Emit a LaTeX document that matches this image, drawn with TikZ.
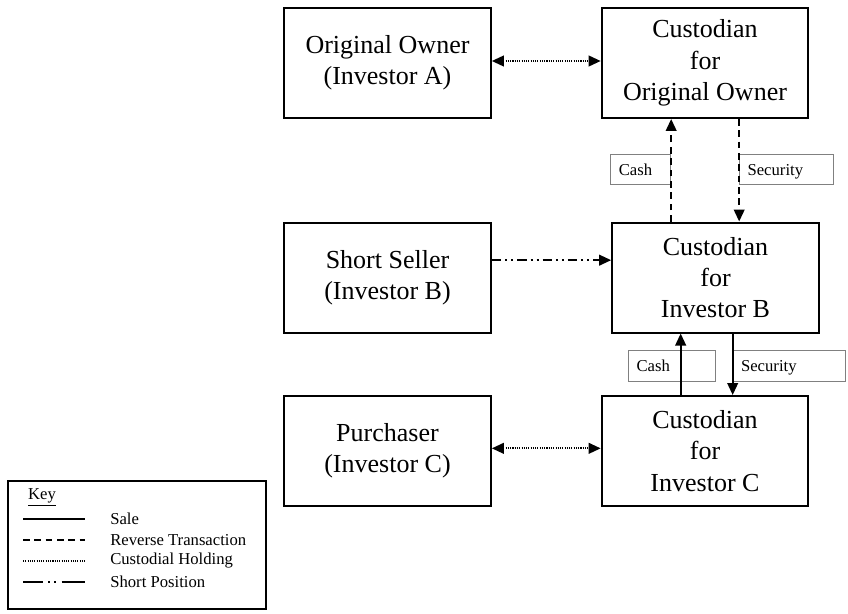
\documentclass[tikz,border=0pt]{standalone}
\usepackage{fontspec}
\setmainfont{Liberation Serif}
\usetikzlibrary{arrows.meta}

\tikzset{
  party/.style={draw,line width=1.5pt,minimum width=155pt,minimum height=82.5pt,
    inner sep=0pt,align=center,font=\fontsize{19.5}{23.5}\selectfont},
  flowtag/.style={draw=gray,line width=0.6pt,inner xsep=6pt,inner ysep=0pt,
    minimum height=23pt,text height=10.5pt,text depth=1.5pt,align=left,
    font=\fontsize{12.5}{14}\selectfont},
  keytext/.style={font=\fontsize{12.5}{14}\selectfont,inner sep=0pt},
  tip/.style={-{Triangle[length=9pt,width=8pt]}},
  twotips/.style={{Triangle[length=9pt,width=8pt]}-{Triangle[length=9pt,width=8pt]}},
  sale/.style={line width=1.4pt},
  reverse/.style={line width=1.5pt,dash pattern=on 5pt off 3.5pt},
  holding/.style={line width=1.4pt,dash pattern=on 0.8pt off 0.9pt},
  shortpos/.style={line width=1.4pt,dash pattern=on 7pt off 3pt on 1.5pt off 3pt on 1.5pt off 3pt}
}

\begin{document}
\begin{tikzpicture}[x=0.75pt,y=-0.75pt]
        \useasboundingbox (0,0) rectangle (848,613);

        \node[party] (OwnerA) at (387.5,63) {Original Owner\\(Investor A)};
        \node[party] (CustA) at (705,63) {Custodian\\for\\Original Owner};
        \node[party] (SellerB) at (387.5,277.5) {Short Seller\\(Investor B)};
        \node[party] (CustB) at (715.5,277.5) {Custodian\\for\\Investor B};
        \node[party] (BuyerC) at (387.5,451) {Purchaser\\(Investor C)};
        \node[party] (CustC) at (705,451) {Custodian\\for\\Investor C};

        % where the vertical flows run
        \coordinate (cashA) at ([xshift=45pt]CustB.north west);
        \coordinate (secA) at ([xshift=96pt]CustB.north west);
        \coordinate (cashC) at ([xshift=60pt]CustC.north west);
        \coordinate (secC) at ([xshift=99pt]CustC.north west);

        \node[flowtag,anchor=east,text width=33pt] (CashTagA) at ([yshift=39pt]cashA) {Cash};
        \node[flowtag,anchor=west,text width=58pt] (SecTagA) at ([yshift=39pt]secA) {Security};
        \node[flowtag,anchor=east,text width=53pt] (CashTagC) at ([xshift=26.25pt,yshift=22pt]cashC) {Cash};
        \node[flowtag,anchor=west,text width=72pt] (SecTagC) at ([yshift=22pt]secC) {Security};

        \draw[holding,twotips] ([yshift=1.5pt]OwnerA.east) -- ([yshift=1.5pt]CustA.west);
        \draw[shortpos,tip] ([yshift=13pt]SellerB.east) -- ([yshift=13pt]CustB.west);
        \draw[holding,twotips] ([yshift=2pt]BuyerC.east) -- ([yshift=2pt]CustC.west);

        \draw[reverse,tip] (cashA) -- (cashA |- CustA.south);
        \draw[reverse,tip] (secA |- CustA.south) -- (secA);
        \draw[sale,tip] (cashC) -- (cashC |- CustB.south);
        \draw[sale,tip] (secC |- CustB.south) -- (secC);

        % key
        \node[draw,line width=0.9pt,minimum width=193.5pt,minimum height=96pt] (KeyBox) at (137,545) {};
        \node[keytext] (KeyTitle) at (42,497) {\underline{Key}};
        \node[keytext,anchor=west] (SaleTxt) at (110,519) {Sale};
        \node[keytext,anchor=west] (RevTxt) at (110,540) {Reverse Transaction};
        \node[keytext,anchor=west] (HoldTxt) at (110,561) {Custodial Holding};
        \node[keytext,anchor=west] (ShortTxt) at (110,582) {Short Position};

        \draw[sale] ([xshift=-65.25pt]SaleTxt.west) -- ++(62,0);
        \draw[reverse] ([xshift=-65.25pt]RevTxt.west) -- ++(62,0);
        \draw[holding,line width=0.9pt] ([xshift=-65.25pt]HoldTxt.west) -- ++(62,0);
        \draw[shortpos,dash pattern=on 15pt off 4pt on 1.5pt off 3pt on 1.5pt off 4pt on 20pt] ([xshift=-65.25pt]ShortTxt.west) -- ++(62,0);
    \end{tikzpicture}
\end{document}
